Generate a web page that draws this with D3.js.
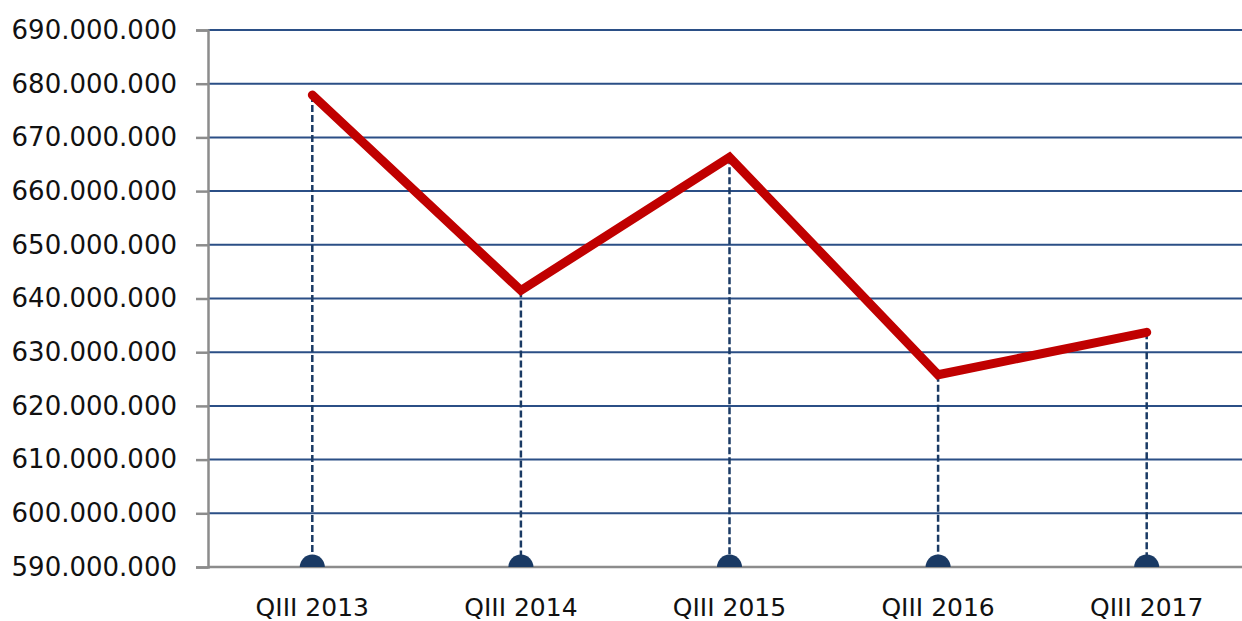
<!DOCTYPE html>
<html>
<head>
<meta charset="utf-8">
<script src="https://cdn.jsdelivr.net/npm/d3@7"></script>
<style>
  html, body { margin: 0; padding: 0; background: #fff; }
  svg { display: block; }
</style>
</head>
<body>
<div id="chart"></div>
<script>
const categories = ["QIII 2013", "QIII 2014", "QIII 2015", "QIII 2016", "QIII 2017"];
const values = [677900000, 641500000, 666300000, 625800000, 633700000];
const yTicks = [590000000, 600000000, 610000000, 620000000, 630000000, 640000000,
                650000000, 660000000, 670000000, 680000000, 690000000];

const width = 1242, height = 621;
const margin = { top: 30, right: 0, bottom: 54, left: 208 };
const h = height - margin.top - margin.bottom;

const svg = d3.select("#chart").append("svg")
  .attr("width", width)
  .attr("height", height);

const x = d3.scaleBand().domain(categories).range([margin.left, 1251]);
const y = d3.scaleLinear().domain([590000000, 690000000]).range([margin.top + h, margin.top]);
const cx = d => x(d) + x.bandwidth() / 2;

const fmt = v => d3.format(",")(v).replace(/,/g, ".");
const font = "'DejaVu Sans', sans-serif";

// gridlines
svg.append("g").selectAll("line")
  .data(yTicks.slice(1))
  .join("line")
  .attr("x1", margin.left).attr("x2", width)
  .attr("y1", d => y(d)).attr("y2", d => y(d))
  .attr("stroke", "#2b4f86")
  .attr("stroke-width", 2);

// y axis
const yAxis = svg.append("g")
  .attr("transform", `translate(${margin.left},0)`)
  .call(d3.axisLeft(y).tickValues(yTicks).tickFormat(fmt).tickSize(12).tickPadding(19));
yAxis.select(".domain").attr("stroke", "#8c8c8c").attr("stroke-width", 2.5);
yAxis.selectAll(".tick line").attr("stroke", "#8c8c8c").attr("stroke-width", 2.5);
yAxis.selectAll(".tick text")
  .attr("font-family", font).attr("font-size", 26).attr("fill", "#111");

// x axis
const xAxis = svg.append("g")
  .attr("transform", `translate(0,${y(590000000)})`)
  .call(d3.axisBottom(x).tickSize(0).tickPadding(31));
xAxis.select(".domain").attr("stroke", "#8c8c8c").attr("stroke-width", 2.5)
  .attr("d", `M${margin.left},0H${width}`);
xAxis.selectAll(".tick text")
  .attr("font-family", font).attr("font-size", 25).attr("fill", "#111");

// drop lines
svg.append("g").selectAll("line")
  .data(categories)
  .join("line")
  .attr("x1", d => cx(d)).attr("x2", d => cx(d))
  .attr("y1", (d, i) => y(values[i])).attr("y2", y(590000000))
  .attr("stroke", "#1a3a64")
  .attr("stroke-width", 2.5)
  .attr("stroke-dasharray", "7,3");

// markers (half circles on the axis)
svg.append("defs").append("clipPath").attr("id", "clipTop")
  .append("rect").attr("x", 0).attr("y", 0).attr("width", width).attr("height", y(590000000));
svg.append("g").attr("clip-path", "url(#clipTop)").selectAll("circle")
  .data(categories)
  .join("circle")
  .attr("cx", d => cx(d))
  .attr("cy", y(590000000))
  .attr("r", 12.5)
  .attr("fill", "#1a3a64");

// line
const line = d3.line()
  .x((d, i) => cx(categories[i]))
  .y(d => y(d));
svg.append("path")
  .datum(values)
  .attr("d", line)
  .attr("fill", "none")
  .attr("stroke", "#c00000")
  .attr("stroke-width", 9)
  .attr("stroke-linecap", "round")
  .attr("stroke-linejoin", "miter");
</script>
</body>
</html>
